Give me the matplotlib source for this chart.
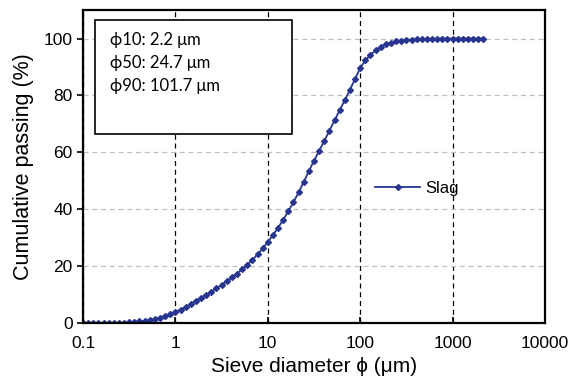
import matplotlib
matplotlib.use("Agg")
import matplotlib.pyplot as plt
from matplotlib.patches import Rectangle

# particle size (um) and cumulative passing (%)
size_um = [0.100, 0.114, 0.129, 0.147, 0.167, 0.190, 0.215, 0.245, 0.278, 0.316,
           0.359, 0.408, 0.464, 0.527, 0.599, 0.681, 0.774, 0.880, 1.000, 1.136,
           1.292, 1.468, 1.668, 1.896, 2.154, 2.448, 2.783, 3.162, 3.594, 4.084,
           4.642, 5.275, 5.995, 6.813, 7.743, 8.799, 10.00, 11.36, 12.92, 14.68,
           16.68, 18.96, 21.54, 24.48, 27.83, 31.62, 35.94, 40.84, 46.42, 52.75,
           59.95, 68.13, 77.43, 87.99, 100.0, 113.6, 129.2, 146.8, 166.8, 189.6,
           215.4, 244.8, 278.3, 316.2, 359.4, 408.4, 464.2, 527.5, 599.5, 681.3,
           774.3, 879.9, 1000, 1136, 1292, 1468, 1668, 1896, 2154]
passing = [0, 0, 0, 0, 0, 0, 0.02, 0.05, 0.1, 0.2,
           0.35, 0.55, 0.75, 1.0, 1.4, 1.9, 2.5, 3.2, 3.9, 4.7,
           5.6, 6.6, 7.7, 8.8, 9.9, 11.0, 12.2, 13.4, 14.7, 16.0,
           17.4, 18.9, 20.5, 22.2, 24.1, 26.2, 28.5, 30.9, 33.5, 36.3,
           39.3, 42.5, 45.9, 49.6, 53.4, 57.0, 60.5, 64.0, 67.6, 71.2,
           74.8, 78.3, 82.0, 85.8, 89.6, 92.3, 94.3, 95.9, 97.1, 98.0,
           98.6, 99.0, 99.3, 99.5, 99.65, 99.75, 99.82, 99.87, 99.91, 99.94,
           99.96, 99.98, 99.99, 100, 100, 100, 100, 100, 100]

x_ticks = [0.1, 1, 10, 100, 1000, 10000]
x_labels = ["0.1", "1", "10", "100", "1000", "10000"]
y_ticks = [0, 20, 40, 60, 80, 100]
box_lines = ["\u03d510: 2.2 \u03bcm", "\u03d550: 24.7 \u03bcm", "\u03d590: 101.7 \u03bcm"]

plt.rcParams['font.family'] = ['Liberation Sans', 'DejaVu Sans']

fig = plt.figure(figsize=(5.71, 3.88), dpi=100)
ax = fig.add_axes([0.1454, 0.1675, 0.809, 0.8065])

ax.plot(size_um, passing, color='#28358f', lw=1.3, marker='D', ms=3.0,
        label='Slag')
ax.set_xscale('log')
ax.set_xlim(0.1, 10000)
ax.set_ylim(0, 110)
ax.set_xticks(x_ticks)
ax.set_xticklabels(x_labels)
ax.minorticks_off()
ax.set_yticks(y_ticks)

ax.grid(axis='x', color='black', ls=(0, (4, 3)), lw=0.9)
ax.grid(axis='y', color='#c0c0c0', ls=(0, (4, 3)), lw=0.9)
ax.set_axisbelow(True)

for s in ax.spines.values():
    s.set_linewidth(1.6)
ax.tick_params(axis='both', labelsize=12.5, width=1.2, length=4)
ax.tick_params(axis='x', direction='in', pad=9)

ax.set_xlabel('Sieve diameter \u03d5 (\u03bcm)', fontsize=15, labelpad=5)
ax.set_ylabel('Cumulative passing (%)', fontsize=15.5, labelpad=7)

ax.legend(loc='center left', bbox_to_anchor=(0.6, 0.43), frameon=False,
          fontsize=12, handlelength=2.7, handletextpad=0.3)

# summary box
ax.add_patch(Rectangle((0.026, 0.604), 0.426, 0.364, transform=ax.transAxes,
                       facecolor='white', edgecolor='black', lw=1.2, zorder=5))
for i, t in enumerate(box_lines):
    ax.text(0.058, 0.905 - i * 0.074, t, transform=ax.transAxes, fontsize=12,
            family=['Lato', 'DejaVu Sans'], va='center', zorder=6)

fig.savefig('out.png', dpi=100)
